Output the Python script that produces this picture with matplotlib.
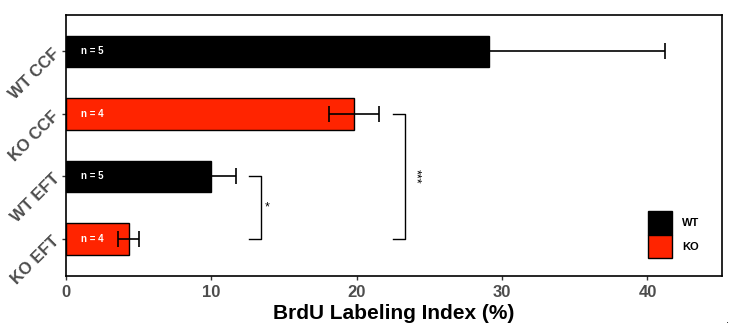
import matplotlib
matplotlib.use("Agg")
import matplotlib.pyplot as plt
from matplotlib.patches import Patch

plt.rcParams['font.family'] = ['Liberation Sans', 'DejaVu Sans']

categories = ["WT CCF", "KO CCF", "WT EFT", "KO EFT"]
values = [29.1, 19.8, 10.0, 4.3]
errors = [12.1, 1.7, 1.7, 0.75]
genotype = ["WT", "KO", "WT", "KO"]
n_labels = ["n = 5", "n = 4", "n = 5", "n = 4"]
colors = {"WT": "#000000", "KO": "#FF2400"}

fig = plt.figure(figsize=(7.35, 3.31), dpi=100)
ax = fig.add_axes([0.0898, 0.166, 0.892, 0.789])

ypos = list(range(len(categories)))
bar_colors = [colors[g] for g in genotype]
ax.barh(ypos, values, height=0.5, color=bar_colors, edgecolor="black", linewidth=1.0,
        xerr=errors, error_kw=dict(ecolor="black", elinewidth=1.2, capsize=6, capthick=1.2), zorder=2)

for y, lab in zip(ypos, n_labels):
    ax.text(1.0, y, lab, color="white", fontsize=7, fontweight="bold", va="center", ha="left", zorder=3)

ax.set_xlim(0, 45.1)
ax.set_ylim(3.59, -0.58)
ax.set_yticks(ypos)
ax.set_yticklabels(categories, rotation=45, ha="right", va="center", rotation_mode="anchor",
                   fontsize=12, fontweight="bold", color="#4d4d4d")
ax.set_xticks([0, 10, 20, 30, 40])
ax.set_xticklabels(["0", "10", "20", "30", "40"], fontsize=12, fontweight="bold", color="#4d4d4d")
ax.tick_params(axis="both", length=3, width=1, color="#333333")
for s in ax.spines.values():
    s.set_linewidth(1.2)
    s.set_color("black")
ax.set_xlabel("BrdU Labeling Index (%)", fontsize=15, fontweight="bold", labelpad=3)

def bracket(x0, x1, y0, y1, label, rot, fs):
    ax.plot([x0, x1, x1, x0], [y0, y0, y1, y1], color="black", lw=1.0, zorder=2)
    ax.text(x1 + 0.3, (y0 + y1) / 2, label, rotation=rot, fontsize=fs, ha="left", va="center")

bracket(12.6, 13.4, 2.0, 3.0, "*", 0, 9)
bracket(22.5, 23.3, 1.0, 3.0, "***", 270, 9)

handles = [Patch(facecolor=colors["WT"], edgecolor="black", label="WT"),
           Patch(facecolor=colors["KO"], edgecolor="black", label="KO")]
leg = ax.legend(handles=handles, loc="lower left", bbox_to_anchor=(0.887, 0.069), frameon=False,
                borderpad=0, borderaxespad=0,
                handlelength=2.2, handleheight=2.85, handletextpad=0.9, labelspacing=0.0,
                prop=dict(weight="bold", size=8))

fig.text(0.99, 0.025, ".", fontsize=8, ha="center")
fig.savefig("out.png", dpi=100)
